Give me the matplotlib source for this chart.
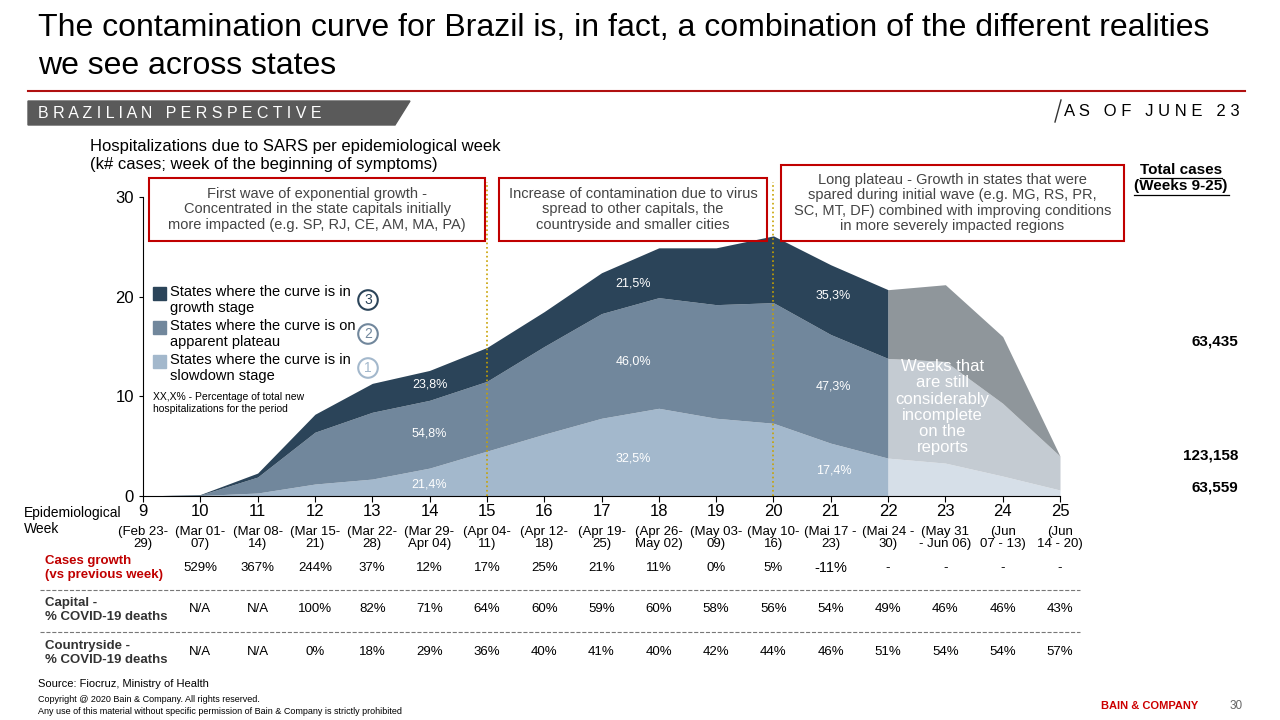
import matplotlib.pyplot as plt
import matplotlib.patches as mpatches
from matplotlib.transforms import blended_transform_factory
import numpy as np

plt.rcParams['font.family'] = ['Liberation Sans', 'DejaVu Sans']

weeks = np.arange(9, 26)
slowdown = [0, 0.05, 0.3, 1.2, 1.7, 2.8, 4.5, 6.2, 7.8, 8.8, 7.8, 7.3, 5.3, 3.8, 3.3, 2.0, 0.6]
plateau_top = [0, 0.1, 1.9, 6.4, 8.4, 9.6, 11.5, 15.0, 18.3, 19.9, 19.2, 19.4, 16.2, 13.8, 13.5, 9.3, 4.0]
growth_top = [0, 0.15, 2.3, 8.2, 11.3, 12.6, 14.9, 18.5, 22.4, 24.9, 24.9, 26.1, 23.2, 20.7, 21.2, 16.0, 4.0]
date_labels = ["(Feb 23-\n29)", "(Mar 01-\n07)", "(Mar 08-\n14)", "(Mar 15-\n21)", "(Mar 22-\n28)",
               "(Mar 29-\nApr 04)", "(Apr 04-\n11)", "(Apr 12-\n18)", "(Apr 19-\n25)", "(Apr 26-\nMay 02)",
               "(May 03-\n09)", "(May 10-\n16)", "(Mai 17 -\n23)", "(Mai 24 -\n30)", "(May 31\n- Jun 06)",
               "(Jun\n07 - 13)", "(Jun\n14 - 20)"]
cases_growth = ["", "529%", "367%", "244%", "37%", "12%", "17%", "25%", "21%", "11%", "0%", "5%", "-11%", "-", "-", "-", "-"]
capital = ["", "N/A", "N/A", "100%", "82%", "71%", "64%", "60%", "59%", "60%", "58%", "56%", "54%", "49%", "46%", "46%", "43%"]
countryside = ["", "N/A", "N/A", "0%", "18%", "29%", "36%", "40%", "41%", "40%", "42%", "44%", "46%", "51%", "54%", "54%", "57%"]
pct_sets = [(14.0, [(11.2, "23,8%"), (6.3, "54,8%"), (1.2, "21,4%")]),
            (17.55, [(21.3, "21,5%"), (13.5, "46,0%"), (3.8, "32,5%")]),
            (21.05, [(20.1, "35,3%"), (11.0, "47,3%"), (2.6, "17,4%")])]

dark, mid, light = '#2b4459', '#71879c', '#a3b8cc'
g_dark, g_mid, g_light = '#8f969b', '#c4cbd2', '#d6dfe8'
red = '#c00000'

fig = plt.figure(figsize=(12.8, 7.2), dpi=100)
ax = fig.add_axes([143/1280, 1-496/720, 917/1280, 299/720])

sl = np.array(slowdown); pt = np.array(plateau_top); gt = np.array(growth_top)
m1 = weeks <= 22
m2 = weeks >= 22
ax.fill_between(weeks[m1], 0, sl[m1], color=light, lw=0)
ax.fill_between(weeks[m1], sl[m1], pt[m1], color=mid, lw=0)
ax.fill_between(weeks[m1], pt[m1], gt[m1], color=dark, lw=0)
ax.fill_between(weeks[m2], 0, sl[m2], color=g_light, lw=0)
ax.fill_between(weeks[m2], sl[m2], pt[m2], color=g_mid, lw=0)
ax.fill_between(weeks[m2], pt[m2], gt[m2], color=g_dark, lw=0)
for w in (15, 20):
    ax.axvline(w, ymin=0, ymax=1.05, color='#c8a200', ls=':', lw=1.2, clip_on=False)

ax.set_xlim(9, 25)
ax.set_ylim(0, 30)
ax.set_yticks([0, 10, 20, 30])
ax.tick_params(axis='y', labelsize=12, length=3)
ax.set_xticks(weeks)
ax.set_xticklabels([str(w) for w in weeks], fontsize=12)
ax.tick_params(axis='x', length=4, pad=2)
for s in ('top', 'right'):
    ax.spines[s].set_visible(False)

for x, items in pct_sets:
    for y, t in items:
        ax.text(x, y, t, color='white', fontsize=9, ha='center', va='center')
ax.text(22.95, 8.9, "Weeks that\nare still\nconsiderably\nincomplete\non the\nreports",
        color='white', fontsize=12, ha='center', va='center', linespacing=1.1)

tr = blended_transform_factory(ax.transData, fig.transFigure)
def fy(p):
    return 1 - p/720
for i, w in enumerate(weeks):
    ax.text(w, fy(538), date_labels[i], transform=tr, ha='center', va='center', fontsize=9.5, linespacing=1.1)
    ax.text(w, fy(568), cases_growth[i], transform=tr, ha='center', va='center', fontsize=10.5 if i == 12 else 9.5)
    ax.text(w, fy(609), capital[i], transform=tr, ha='center', va='center', fontsize=9.5)
    ax.text(w, fy(652), countryside[i], transform=tr, ha='center', va='center', fontsize=9.5)

fig.text(24/1280, fy(521), "Epidemiological\nWeek", fontsize=10, va='center', linespacing=1.2)
fig.text(45/1280, fy(568), "Cases growth\n(vs previous week)", fontsize=9.5, va='center', color=red, weight='bold')
fig.text(45/1280, fy(610), "Capital -\n% COVID-19 deaths", fontsize=9.5, va='center', color='#333333', weight='bold')
fig.text(45/1280, fy(653), "Countryside -\n% COVID-19 deaths", fontsize=9.5, va='center', color='#333333', weight='bold')
for yy in (590, 632):
    fig.add_artist(plt.Line2D([40/1280, 1080/1280], [fy(yy), fy(yy)], color='#777777', ls='--', lw=0.8))

# legend
leg = [(dark, "States where the curve is in\ngrowth stage", "3"),
       (mid, "States where the curve is on\napparent plateau", "2"),
       (light, "States where the curve is in\nslowdown stage", "1")]
for k, (c, t, n) in enumerate(leg):
    y0 = 293 + 34*k
    fig.add_artist(mpatches.Rectangle((153/1280, fy(y0+7)), 13/1280, 13/720, color=c))
    fig.text(170/1280, fy(y0-8), t, fontsize=10.5, va='top', linespacing=1.15)
    fig.text(368/1280, fy(y0+7), n, fontsize=10, ha='center', va='center', color=c,
             bbox=dict(boxstyle='circle,pad=0.2', fc='white', ec=c, lw=1.5))
fig.text(153/1280, fy(403), "XX,X% - Percentage of total new\nhospitalizations for the period", fontsize=7.5, va='center')

# header
fig.text(38/1280, fy(28), "The contamination curve for Brazil is, in fact, a combination of the different realities",
         fontsize=23, va='center')
fig.text(38/1280, fy(66), "we see across states", fontsize=23, va='center')
fig.add_artist(plt.Line2D([28/1280, 1245/1280], [fy(91), fy(91)], color='#b01010', lw=1.5))
fig.add_artist(mpatches.Polygon([(28/1280, fy(101)), (410/1280, fy(101)), (395/1280, fy(125)), (28/1280, fy(125))],
                                closed=True, color='#5a5a5a'))
fig.text(38/1280, fy(113), "B R A Z I L I A N   P E R S P E C T I V E", color='white', fontsize=11.5, va='center')
fig.text(1240/1280, fy(112), "A S   O F   J U N E   2 3", fontsize=12, va='center', ha='right')
fig.add_artist(plt.Line2D([1055/1280, 1061/1280], [fy(122), fy(100)], color='#333333', lw=1))

fig.text(90/1280, fy(146), "Hospitalizations due to SARS per epidemiological week", fontsize=12, va='center')
fig.text(90/1280, fy(164), "(k# cases; week of the beginning of symptoms)", fontsize=12, va='center')

boxes = [(149, 485, 178, 241, "First wave of exponential growth -\nConcentrated in the state capitals initially\nmore impacted (e.g. SP, RJ, CE, AM, MA, PA)"),
         (499, 767, 178, 241, "Increase of contamination due to virus\nspread to other capitals, the\ncountryside and smaller cities"),
         (781, 1124, 165, 241, "Long plateau - Growth in states that were\nspared during initial wave (e.g. MG, RS, PR,\nSC, MT, DF) combined with improving conditions\nin more severely impacted regions")]
for x0, x1, y0, y1, t in boxes:
    fig.add_artist(mpatches.Rectangle((x0/1280, fy(y1)), (x1-x0)/1280, (y1-y0)/720, fill=False, ec=red, lw=1.5))
    fig.text((x0+x1)/2560, fy((y0+y1)/2), t, ha='center', va='center', fontsize=10.5, color='#444444', linespacing=1.15)

fig.text(1181/1280, fy(178), "Total cases\n(Weeks 9-25)", ha='center', va='center', fontsize=11, weight='bold', linespacing=1.1)
fig.add_artist(plt.Line2D([1140/1280, 1222/1280], [fy(178), fy(178)], color='black', lw=0.9))
fig.add_artist(plt.Line2D([1134/1280, 1229/1280], [fy(195), fy(195)], color='black', lw=0.9))
for t, yy in (("63,435", 342), ("123,158", 456), ("63,559", 488)):
    fig.text(1238/1280, fy(yy), t, ha='right', va='center', fontsize=11, weight='bold')

fig.text(38/1280, fy(684), "Source: Fiocruz, Ministry of Health", fontsize=8, va='center')
fig.text(38/1280, fy(699), "Copyright @ 2020 Bain & Company. All rights reserved.", fontsize=6.5, va='center')
fig.text(38/1280, fy(711), "Any use of this material without specific permission of Bain & Company is strictly prohibited", fontsize=6.5, va='center')
fig.text(1150/1280, fy(706), "BAIN & COMPANY", color='#cc0000', fontsize=8, weight='bold', ha='center', va='center')
fig.text(1236/1280, fy(706), "30", color='#666666', fontsize=8.5, ha='center', va='center')

fig.savefig('out.png', dpi=100)
